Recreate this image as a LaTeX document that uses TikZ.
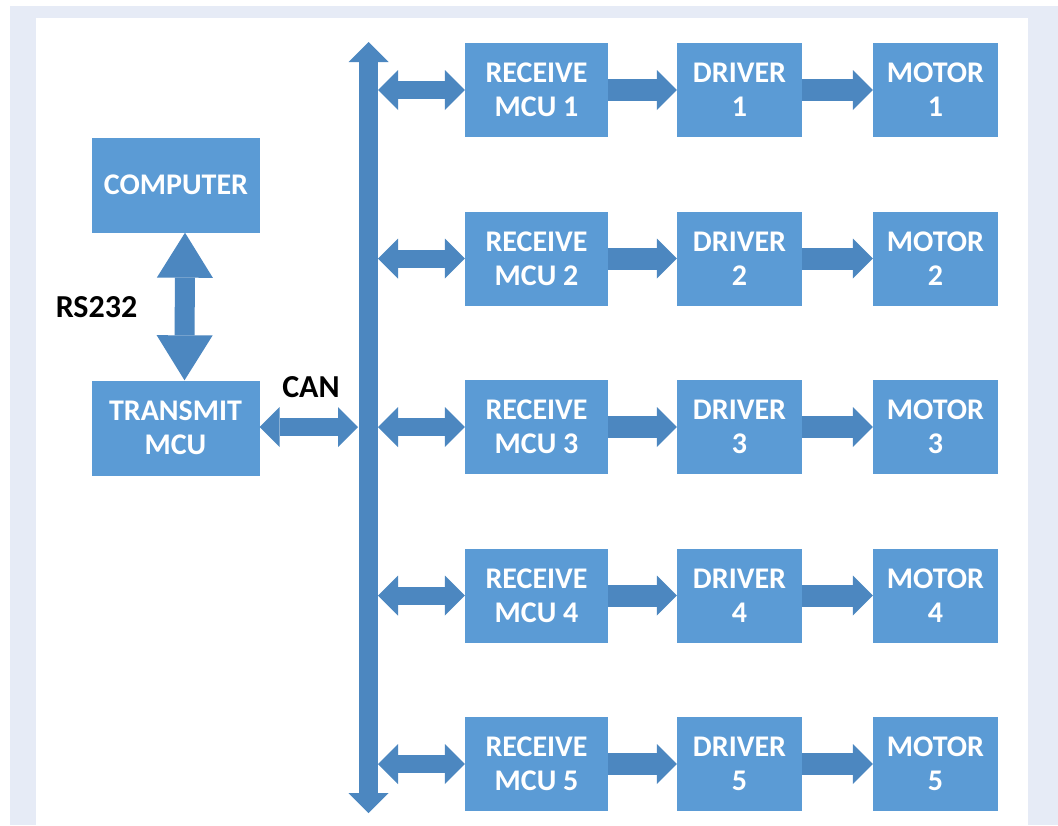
\documentclass[tikz,border=0pt]{standalone}
\usepackage{fontspec}
\setmainfont{Carlito}
\usetikzlibrary{arrows.meta,calc}
\definecolor{boxblue}{HTML}{5B9BD5}
\definecolor{arrowblue}{HTML}{4C87C0}
\definecolor{framebg}{HTML}{E6EBF6}
\tikzset{
  blk/.style={fill=boxblue, draw=none, text=white, align=center, inner sep=0pt,
    minimum height=94pt, font=\fontsize{30}{34}\selectfont\bfseries},
  rcv/.style={blk, minimum width=143pt},
  drv/.style={blk, minimum width=125pt},
  pc/.style={blk, minimum width=168pt, minimum height=95pt},
  lbl/.style={text=black, inner sep=0pt, font=\fontsize{32}{36}\selectfont\bfseries},
  tipA/.tip={Triangle[width=40pt,length=20pt,line width=0pt]},
  tipB/.tip={Triangle[width=56pt,length=45pt,line width=0pt]},
  one/.style={draw=arrowblue, line width=22pt, -tipA},
  two/.style={draw=arrowblue, line width=18pt, tipA-tipA},
  bus/.style={draw=arrowblue, line width=19pt, tipA-tipA},
  rs/.style={draw=arrowblue, line width=20pt, tipB-tipB}
}
\begin{document}
\begin{tikzpicture}[x=1pt,y=-1pt]
\useasboundingbox (0,0) rectangle (1058,825);
\fill[white] (0,0) rectangle (1058,825);
\fill[framebg] (10,6) rectangle (1058,825);
\fill[white] (36,18) rectangle (1028,825);

\node[pc] (computer) at (176,185) {COMPUTER};
\node[pc] (transmit) at (175.5,428) {TRANSMIT\\MCU};
\node[lbl] (rs232) at (96.5,307) {RS232};
\node[lbl] (can) at (311,387) {CAN};

\coordinate (bustop) at (368.5,42);
\coordinate (busbot) at (368.5,813);
\draw[bus] (bustop) -- (busbot);

\draw[rs] ([xshift=9pt]computer.south) -- ([xshift=9pt]transmit.north);
\coordinate (canend) at (358,427);
\draw[two] (transmit.east |- canend) -- (canend);

\foreach \i/\y in {1/90,2/258.5,3/427,4/595.5,5/764}{
  \node[rcv] (r\i) at (536.5,\y) {RECEIVE\\MCU \i};
  \node[drv] (d\i) at (739.5,\y) {DRIVER\\\i};
  \node[drv] (m\i) at (935.5,\y) {MOTOR\\\i};
  \coordinate (b\i) at (378,\y);
  \draw[two] (b\i) -- (r\i.west);
  \draw[one] (r\i.east) -- (d\i.west);
  \draw[one] (d\i.east) -- (m\i.west);
}
\end{tikzpicture}
\end{document}
